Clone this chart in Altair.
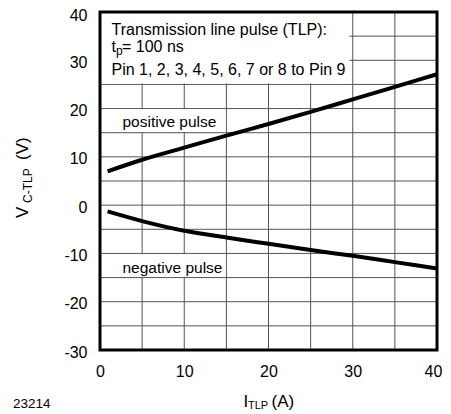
import altair as alt
import pandas as pd

# ---- data ----
current_A = [0.9, 5, 10, 15, 20, 25, 30, 35, 40]
v_positive = [7.0, 9.4, 11.9, 14.4, 16.8, 19.3, 21.9, 24.5, 27.1]
v_negative = [-1.3, -3.3, -5.3, -6.7, -8.0, -9.3, -10.5, -11.8, -13.1]
x_grid = list(range(0, 41, 5))
y_grid = list(range(-30, 41, 5))
x_labels = list(range(0, 41, 10))
y_labels = list(range(-30, 41, 10))

W, H = 337, 338
FONT = "Liberation Sans"
GRID = "#555555"

curves = pd.DataFrame({
    "I": current_A + current_A,
    "V": v_positive + v_negative,
    "pulse": ["positive"] * len(current_A) + ["negative"] * len(current_A),
})

x_scale = alt.Scale(domain=[0, 40], nice=False, zero=False)
y_scale = alt.Scale(domain=[-30, 40], nice=False, zero=False)

axis_common = dict(
    grid=False, ticks=False, tickSize=0,
    domain=False, labelFont=FONT, labelFontSize=16, labelColor="black",
    title=None, labelFlush=False, labelOverlap=False,
    labelExpr="'' + datum.value",
)
x_axis = alt.Axis(values=x_labels, labelPadding=13,
                  labelOffset={"condition": {"test": "datum.value === 40", "value": -4},
                               "value": 0},
                  **axis_common)
y_axis = alt.Axis(values=y_labels, labelPadding=13,
                  labelOffset={"condition": {"test": "datum.value === 40", "value": -4.5},
                               "value": 2},
                  labelBaseline={"condition": {"test": "datum.value === 40", "value": "top"},
                                 "value": "middle"},
                  **axis_common)

# grid as rules
vgrid = alt.Chart(pd.DataFrame({"gx": x_grid})).mark_rule(
    color=GRID, strokeWidth=1
).encode(x=alt.X("gx:Q", scale=x_scale, axis=x_axis),
         y=alt.value(0), y2=alt.value(H))
hgrid = alt.Chart(pd.DataFrame({"gy": y_grid})).mark_rule(
    color=GRID, strokeWidth=1
).encode(y=alt.Y("gy:Q", scale=y_scale, axis=y_axis),
         x=alt.value(0), x2=alt.value(W))

boxes = pd.DataFrame({
    "x0": [0, 0, 0],
    "x1": [29.6, 14.9, 14.9],
    "y0": [25.2, 15.15, -14.85],
    "y1": [40, 19.85, -10.15],
})
white = alt.Chart(boxes).mark_rect(color="white").encode(
    x=alt.X("x0:Q", scale=x_scale, axis=x_axis), x2="x1:Q",
    y=alt.Y("y0:Q", scale=y_scale, axis=y_axis), y2="y1:Q",
)

lines = alt.Chart(curves).mark_line(
    color="black", strokeWidth=4, interpolate="monotone"
).encode(
    x=alt.X("I:Q", scale=x_scale, axis=x_axis),
    y=alt.Y("V:Q", scale=y_scale, axis=y_axis),
    detail="pulse:N",
)

frame = alt.Chart(alt.Data(values=[{}])).mark_rect(
    fillOpacity=0, stroke="black", strokeWidth=3
).encode(x=alt.value(0), x2=alt.value(W), y=alt.value(0), y2=alt.value(H))


def label(text, x, y, size, angle=0):
    kw = dict(text=text, font=FONT, fontSize=size, color="black",
              align="left", baseline="alphabetic")
    if angle:
        kw["angle"] = angle
    return alt.Chart(alt.Data(values=[{}])).mark_text(**kw).encode(
        x=alt.value(x), y=alt.value(y))


texts = [
    label("Transmission line pulse (TLP):", 11.5, 23, 16),
    label("t", 11.5, 39.7, 16),
    label("p", 16, 43, 12),
    label("= 100 ns", 22, 39.7, 16),
    label("Pin 1, 2, 3, 4, 5, 6, 7 or 8 to Pin 9", 11.5, 63, 16),
    label("positive pulse", 22.5, 114.7, 15.5),
    label("negative pulse", 22.5, 261, 15.5),
    label("V", -72, 206, 17, 270),
    label("C-TLP", -68, 191, 12, 270),
    label("(V)", -72, 148, 17, 270),
    label("I", 143.4, 395, 17),
    label("TLP", 148, 397, 11),
    label("(A)", 171.5, 395, 17),
    label("23214", -87, 396, 13.5),
]

chart = alt.layer(vgrid, hgrid, white, lines, frame, *texts).properties(
    width=W, height=H,
    autosize=alt.AutoSizeParams(type="none"),
    padding={"left": 92, "top": 4, "right": 6, "bottom": 60},
    background="white",
).configure_view(stroke=None)

chart.save("out.html", embed_options={"renderer": "svg", "actions": False})
